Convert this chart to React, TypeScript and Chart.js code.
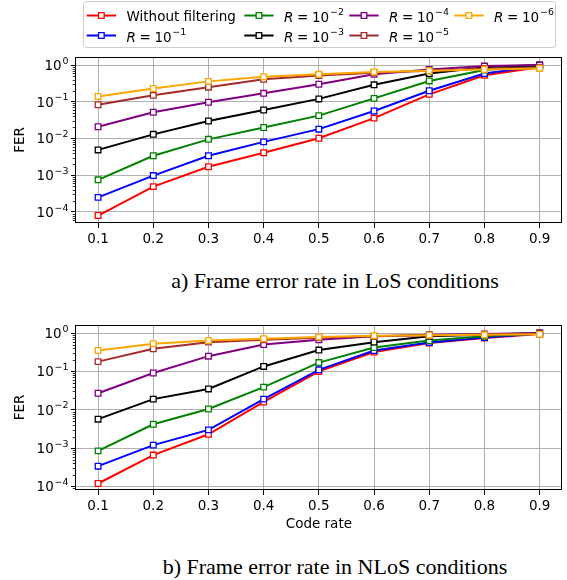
import React, { useEffect, useRef } from 'react';
import { Chart, registerables } from 'chart.js';

Chart.register(...registerables);

const FONT = '"DejaVu Sans", sans-serif';
const FS = 13.5;

// ---- data ----
const CODE_RATES = [0.1, 0.2, 0.3, 0.4, 0.5, 0.6, 0.7, 0.8, 0.9];
const X_TICKS = [0.1, 0.2, 0.3, 0.4, 0.5, 0.6, 0.7, 0.8, 0.9];
const Y_DECADES = [1e-4, 1e-3, 1e-2, 1e-1, 1];

const SERIES_NAMES = ['Without filtering', 'R = 10^-1', 'R = 10^-2', 'R = 10^-3', 'R = 10^-4', 'R = 10^-5', 'R = 10^-6'];
const SERIES_EXPONENTS = [null, -1, -2, -3, -4, -5, -6];
const SERIES_COLORS = ['#ff0000', '#0000ff', '#008000', '#000000', '#800080', '#a52a2a', '#ffa500'];

const LOS_NO_FILTER = [8e-5, 4.9e-4, 1.7e-3, 4.1e-3, 0.0102, 0.036, 0.16, 0.53, 0.87];
const LOS_R1 = [2.5e-4, 9.8e-4, 3.4e-3, 8.1e-3, 0.018, 0.056, 0.2, 0.59, 0.94];
const LOS_R2 = [7.5e-4, 3.4e-3, 9.5e-3, 0.02, 0.042, 0.124, 0.37, 0.73, 0.98];
const LOS_R3 = [4.9e-3, 0.013, 0.03, 0.06, 0.12, 0.29, 0.59, 0.87, 1.0];
const LOS_R4 = [0.021, 0.052, 0.097, 0.17, 0.3, 0.56, 0.76, 0.94, 1.0];
const LOS_R5 = [0.083, 0.15, 0.25, 0.41, 0.52, 0.62, 0.7, 0.8, 0.85];
const LOS_R6 = [0.14, 0.23, 0.36, 0.48, 0.56, 0.65, 0.7, 0.76, 0.81];

const NLOS_NO_FILTER = [1.2e-4, 6.6e-4, 2.3e-3, 0.016, 0.1, 0.32, 0.55, 0.74, 0.94];
const NLOS_R1 = [3.4e-4, 1.2e-3, 3.0e-3, 0.019, 0.11, 0.35, 0.57, 0.77, 0.97];
const NLOS_R2 = [8.5e-4, 4.2e-3, 0.0105, 0.039, 0.17, 0.42, 0.64, 0.82, 0.98];
const NLOS_R3 = [5.7e-3, 0.019, 0.035, 0.135, 0.36, 0.58, 0.82, 0.9, 1.0];
const NLOS_R4 = [0.027, 0.091, 0.25, 0.5, 0.67, 0.82, 0.9, 0.95, 1.0];
const NLOS_R5 = [0.18, 0.39, 0.58, 0.67, 0.75, 0.82, 0.88, 0.92, 0.95];
const NLOS_R6 = [0.35, 0.53, 0.64, 0.71, 0.79, 0.85, 0.88, 0.9, 0.93];

const LOS_SERIES = [LOS_NO_FILTER, LOS_R1, LOS_R2, LOS_R3, LOS_R4, LOS_R5, LOS_R6];
const NLOS_SERIES = [NLOS_NO_FILTER, NLOS_R1, NLOS_R2, NLOS_R3, NLOS_R4, NLOS_R5, NLOS_R6];

const CAPTION_LOS = 'a) Frame error rate in LoS conditions';
const CAPTION_NLOS = 'b) Frame error rate in NLoS conditions';

// ---- drawing helpers ----
function drawPow(ctx: CanvasRenderingContext2D, x: number, base: number, exp: number, align: 'left' | 'right') {
  const big = `${FS}px ${FONT}`;
  const supSize = FS * 0.7;
  const small = `${supSize}px ${FONT}`;
  ctx.font = big;
  const w10 = ctx.measureText('10').width;
  const sup = exp < 0 ? '\u2212' + -exp : String(exp);
  ctx.font = small;
  const ws = ctx.measureText(sup).width;
  const total = w10 + 0.8 + ws;
  const x0 = align === 'right' ? x - total : x;
  ctx.textAlign = 'left';
  ctx.textBaseline = 'alphabetic';
  ctx.font = big;
  ctx.fillText('10', x0, base);
  ctx.font = small;
  ctx.fillText(sup, x0 + w10 + 0.8, base - FS * 0.47);
  return total;
}

function drawMarker(ctx: CanvasRenderingContext2D, cx: number, cy: number, color: string) {
  const s = 5.6;
  ctx.fillStyle = '#fff';
  ctx.strokeStyle = color;
  ctx.lineWidth = 1.3;
  ctx.beginPath();
  ctx.rect(cx - s / 2, cy - s / 2, s, s);
  ctx.fill();
  ctx.stroke();
}

const decorPlugin = {
  id: 'decor',
  afterDatasetsDraw(chart: any) {
    const { ctx, chartArea: a, scales } = chart;
    const y = scales.y;
    ctx.save();
    // frame
    ctx.strokeStyle = '#000';
    ctx.lineWidth = 1;
    const L = Math.round(a.left) - 0.5;
    const T = Math.round(a.top) + 0.5;
    const R = Math.round(a.right) - 0.5;
    const B = Math.round(a.bottom) - 0.5;
    ctx.strokeRect(L, T, R - L, B - T);
    // minor ticks
    ctx.lineWidth = 0.8;
    const lo = Math.floor(Math.log10(y.min));
    const hi = Math.ceil(Math.log10(y.max));
    ctx.beginPath();
    for (let d = lo; d <= hi; d++) {
      for (let k = 2; k <= 9; k++) {
        const v = k * Math.pow(10, d);
        if (v < y.min || v > y.max) continue;
        const py = Math.round(y.getPixelForValue(v)) + 0.5;
        ctx.moveTo(L - 2.8, py);
        ctx.lineTo(L, py);
      }
    }
    ctx.stroke();
    // y tick labels
    ctx.fillStyle = '#000';
    for (const t of y.ticks) {
      const e = Math.round(Math.log10(t.value));
      const py = y.getPixelForValue(t.value);
      drawPow(ctx, 68.5, py + 4.9, e, 'right');
    }
    ctx.restore();
  },
};

const legendPlugin = {
  id: 'mplLegend',
  afterDraw(chart: any) {
    const ctx: CanvasRenderingContext2D = chart.ctx;
    ctx.save();
    // frame
    const x = 83.5, yb = 1.5, w = 472, h = 46, r = 3;
    ctx.beginPath();
    ctx.moveTo(x + r, yb);
    ctx.lineTo(x + w - r, yb);
    ctx.arcTo(x + w, yb, x + w, yb + r, r);
    ctx.lineTo(x + w, yb + h - r);
    ctx.arcTo(x + w, yb + h, x + w - r, yb + h, r);
    ctx.lineTo(x + r, yb + h);
    ctx.arcTo(x, yb + h, x, yb + h - r, r);
    ctx.lineTo(x, yb + r);
    ctx.arcTo(x, yb, x + r, yb, r);
    ctx.closePath();
    ctx.fillStyle = 'rgba(255,255,255,0.8)';
    ctx.fill();
    ctx.strokeStyle = '#cccccc';
    ctx.lineWidth = 1;
    ctx.stroke();

    const rows = [15.5, 35.5];
    const cols = [86.7, 244.3, 349.3, 454.3];
    const lineLen = 29.3;
    SERIES_NAMES.forEach((name, i) => {
      const col = Math.floor(i / 2);
      const row = i % 2;
      const lx = cols[col];
      const ly = rows[row];
      const color = SERIES_COLORS[i];
      ctx.strokeStyle = color;
      ctx.lineWidth = 2;
      ctx.beginPath();
      ctx.moveTo(lx, ly);
      ctx.lineTo(lx + lineLen, ly);
      ctx.stroke();
      drawMarker(ctx, lx + lineLen / 2, ly, color);
      ctx.fillStyle = '#000';
      const tx = lx + lineLen + 10.5;
      const exp = SERIES_EXPONENTS[i];
      if (exp === null) {
        ctx.font = `${FS}px ${FONT}`;
        ctx.textAlign = 'left';
        ctx.textBaseline = 'alphabetic';
        ctx.fillText(name, tx, ly + 5);
      } else {
        const base = ly + 6.2;
        ctx.textAlign = 'left';
        ctx.textBaseline = 'alphabetic';
        ctx.font = `italic ${FS}px ${FONT}`;
        ctx.fillText('R', tx, base);
        let cx = tx + ctx.measureText('R').width + 3.6;
        ctx.font = `${FS}px ${FONT}`;
        ctx.fillText('=', cx, base);
        cx += ctx.measureText('=').width + 3.6;
        drawPow(ctx, cx, base, exp, 'left');
      }
    });
    ctx.restore();
  },
};

function buildConfig(series: number[][], yMin: number, yMax: number, height: number, areaTop: number, areaBottom: number, withXTitle: boolean, withLegend: boolean): any {
  return {
    type: 'line',
    data: {
      datasets: series.map((vals, i) => ({
        label: SERIES_NAMES[i],
        data: CODE_RATES.map((x, j) => ({ x, y: vals[j] })),
        borderColor: SERIES_COLORS[i],
        backgroundColor: SERIES_COLORS[i],
        pointBackgroundColor: '#ffffff',
        pointBorderColor: SERIES_COLORS[i],
        pointStyle: 'rect',
        pointRadius: 4,
        pointBorderWidth: 1.3,
        borderWidth: 2,
        tension: 0,
        fill: false,
        order: series.length - i,
      })),
    },
    options: {
      animation: false,
      responsive: false,
      events: [],
      layout: { padding: { top: areaTop, left: 0, right: 2, bottom: 0 } },
      plugins: { legend: { display: false }, tooltip: { enabled: false } },
      scales: {
        x: {
          type: 'linear',
          position: 'bottom',
          min: 0.06,
          max: 0.94,
          afterBuildTicks: (s: any) => {
            s.ticks = X_TICKS.map((v) => ({ value: v }));
          },
          afterFit: (s: any) => {
            s.height = height - areaBottom;
          },
          ticks: {
            color: '#000',
            font: { family: FONT, size: FS },
            padding: 3,
            maxRotation: 0,
            autoSkip: false,
            callback: (v: any) => Number(v).toFixed(1),
          },
          grid: { color: '#b0b0b0', lineWidth: 1, tickColor: '#000', tickLength: 5, tickWidth: 1 },
          border: { display: false },
          title: withXTitle
            ? { display: true, text: 'Code rate', color: '#000', font: { family: FONT, size: FS }, padding: { top: 0, bottom: 2 } }
            : { display: false },
        },
        y: {
          type: 'logarithmic',
          position: 'left',
          min: yMin,
          max: yMax,
          afterBuildTicks: (s: any) => {
            s.ticks = Y_DECADES.filter((v) => v >= s.min && v <= s.max).map((v) => ({ value: v }));
          },
          afterFit: (s: any) => {
            s.width = 76;
          },
          ticks: { display: false },
          grid: { color: '#b0b0b0', lineWidth: 1, tickColor: '#000', tickLength: 5, tickWidth: 1 },
          border: { display: false },
          title: { display: true, text: 'FER', color: '#000', font: { family: FONT, size: FS }, padding: { top: 12, bottom: 0 } },
        },
      },
    },
    plugins: withLegend ? [decorPlugin, legendPlugin] : [decorPlugin],
  };
}

const W = 567;
const H1 = 258;
const H2 = 270;

export default function App() {
  const ref1 = useRef<HTMLCanvasElement>(null);
  const ref2 = useRef<HTMLCanvasElement>(null);

  useEffect(() => {
    const c1 = new Chart(ref1.current as HTMLCanvasElement, buildConfig(LOS_SERIES, Math.pow(10, -4.3), Math.pow(10, 0.22), H1, 57, 223, false, true));
    const c2 = new Chart(ref2.current as HTMLCanvasElement, buildConfig(NLOS_SERIES, Math.pow(10, -4.09), Math.pow(10, 0.21), H2, 60, 225, true, false));
    return () => {
      c1.destroy();
      c2.destroy();
    };
  }, []);

  const captionStyle: React.CSSProperties = {
    position: 'absolute',
    left: 335,
    transform: 'translateX(-50%)',
    whiteSpace: 'nowrap',
    fontFamily: '"Liberation Serif", "Times New Roman", serif',
    fontSize: 22,
    lineHeight: '22px',
    color: '#000',
  };

  return (
    <div style={{ position: 'absolute', left: 0, top: 0, width: W, height: 580, background: '#fff', overflow: 'hidden' }}>
      <canvas ref={ref1} width={W} height={H1} style={{ position: 'absolute', left: 0, top: 0, width: W, height: H1, display: 'block' }} />
      <div style={{ ...captionStyle, top: 270 }}>{CAPTION_LOS}</div>
      <canvas ref={ref2} width={W} height={H2} style={{ position: 'absolute', left: 0, top: 265, width: W, height: H2, display: 'block' }} />
      <div style={{ ...captionStyle, top: 556 }}>{CAPTION_NLOS}</div>
    </div>
  );
}
